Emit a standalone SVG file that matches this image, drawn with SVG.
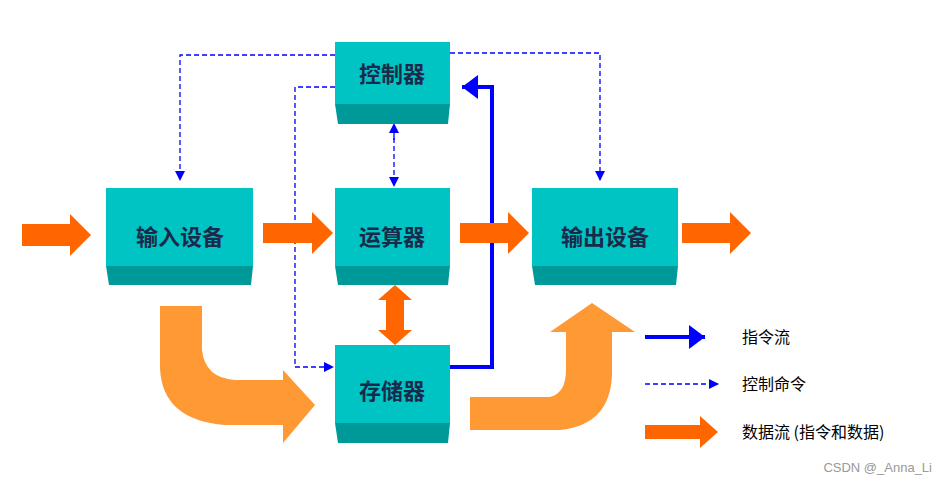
<svg xmlns="http://www.w3.org/2000/svg" width="936" height="485" viewBox="0 0 936 485">
<style>
.top{fill:#00C4C4}.bot{fill:#009999}
.t{font-family:"Noto Sans CJK SC",sans-serif;font-weight:bold;font-size:22px;fill:#1a2a4a;text-anchor:middle}
.lg{font-family:"Noto Sans CJK SC",sans-serif;font-size:16px;fill:#000}
.d{fill:none;stroke:#0000FF;stroke-width:1.3;stroke-dasharray:5 3}
.s{fill:none;stroke:#0000FF;stroke-width:4}
.o{fill:#FF6600}.lo{fill:#FF9933}
</style>
<defs>
<marker id="ad" markerWidth="10" markerHeight="10" refX="9" refY="5" orient="auto" markerUnits="userSpaceOnUse"><path d="M0,0L10,5L0,10Z" fill="#0000FF"/></marker>
<marker id="as" markerWidth="12" markerHeight="12" refX="4" refY="3" orient="auto"><path d="M0,0L4,3L0,6Z" fill="#0000FF"/></marker>
</defs>
<rect width="936" height="485" fill="#fff"/>
<g id="connectors">
<path class="d" d="M335,55H180V180" marker-end="url(#ad)"/>
<path class="d" d="M450,53H600V180" marker-end="url(#ad)"/>
<path class="d" d="M335,87H295V367H333" marker-end="url(#ad)"/>
<path class="d" d="M394,130V186" marker-end="url(#ad)"/>
<path class="d" d="M394,140V124" marker-end="url(#ad)"/>
<path class="s" d="M450,367H492V87H462" marker-end="url(#as)"/>
<path class="o" d="M22,224H70V214L91,235L70,256V246H22Z"/>
<path class="o" d="M263,223H312V212L333,233L312,254V243H263Z"/>
<path class="o" d="M460,223H508V212L529,233L508,254V243H460Z"/>
<path class="o" d="M682,223H730V212L751,233L730,254V243H682Z"/>
<path class="o" d="M386,300H378L395,285L412,300H404V330H412L395,345L378,330H386Z"/>
<path class="lo" d="M160,306H202V350Q205,378 235,380H283V370L315,405L283,443V425H225Q162,420 160,368Z"/>
<path class="lo" d="M470,397H550Q566,393 566,370V332H550L592,303L635,332H612V375Q610,425 560,430H470Z"/>
</g>
<g id="n1"><path class="bot" d="M335,104H450L448,124H338Z"/><rect class="top" x="335" y="42" width="115" height="62"/><text class="t" x="392" y="82">控制器</text></g>
<g id="n2"><path class="bot" d="M106,266H253L251,285H109Z"/><rect class="top" x="106" y="188" width="147" height="78"/><text class="t" x="180" y="245">输入设备</text></g>
<g id="n3"><path class="bot" d="M335,266H450L448,285H338Z"/><rect class="top" x="335" y="188" width="115" height="78"/><text class="t" x="392" y="245">运算器</text></g>
<g id="n4"><path class="bot" d="M532,266H678L676,285H535Z"/><rect class="top" x="532" y="188" width="146" height="78"/><text class="t" x="605" y="245">输出设备</text></g>
<g id="n5"><path class="bot" d="M335,423H450L448,443H338Z"/><rect class="top" x="335" y="345" width="115" height="78"/><text class="t" x="392" y="399">存储器</text></g>
<g id="legend">
<path class="s" d="M645,337H705" marker-end="url(#as)"/>
<text class="lg" x="742" y="343">指令流</text>
<path class="d" d="M645,384H718" marker-end="url(#ad)"/>
<text class="lg" x="742" y="390">控制命令</text>
<path class="o" d="M645,425H700V416L718,432L700,448V439H645Z"/>
<text class="lg" x="742" y="438">数据流 (指令和数据)</text>
</g>
<text x="932" y="472" text-anchor="end" font-family="Liberation Sans,sans-serif" font-size="13" fill="#999">CSDN @_Anna_Li</text>
</svg>
